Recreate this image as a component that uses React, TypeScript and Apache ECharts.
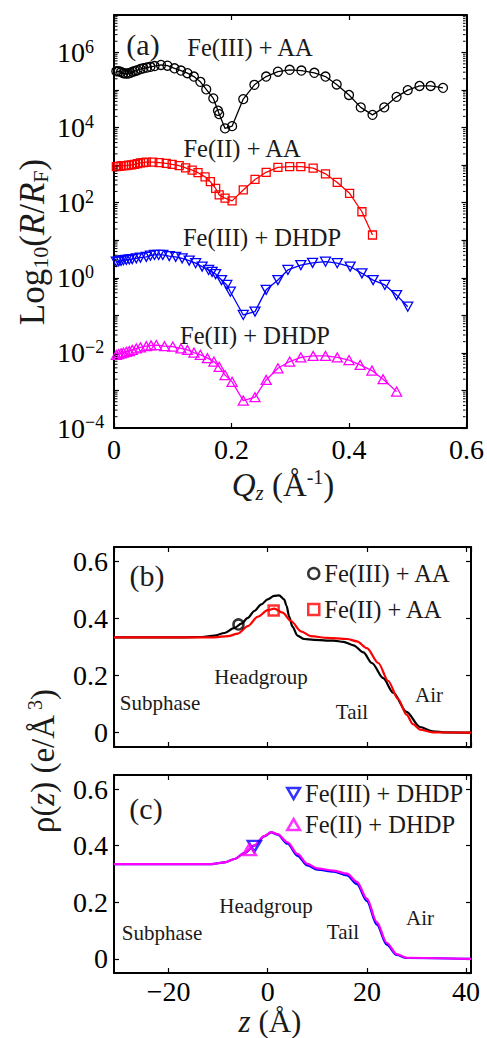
import React, { useEffect, useRef } from "react";
import * as echarts from "echarts";

const FONT = "'Liberation Serif', 'Times New Roman', serif";
const TXT = "#1a1a1a";

// ---------- Panel (a): [Qz (1/Å), log10(R/RF)] ----------
const fe3AA: number[][] = [
  [0.004, 5.5], [0.008, 5.5], [0.012, 5.48], [0.016, 5.45], [0.02, 5.44], [0.024, 5.44], [0.028, 5.46],
  [0.032, 5.49], [0.036, 5.51], [0.04, 5.53], [0.045, 5.56], [0.05, 5.58], [0.056, 5.6], [0.062, 5.62],
  [0.069, 5.64], [0.08, 5.67], [0.091, 5.65], [0.103, 5.58], [0.114, 5.52], [0.125, 5.45], [0.136, 5.36],
  [0.147, 5.22], [0.157, 5.02], [0.169, 4.78], [0.177, 4.45], [0.179, 4.36], [0.189, 3.98], [0.201, 4.04],
  [0.22, 4.76], [0.239, 5.14], [0.259, 5.36], [0.279, 5.49], [0.299, 5.54], [0.319, 5.52], [0.341, 5.46],
  [0.36, 5.36], [0.379, 5.15], [0.4, 4.87], [0.42, 4.54], [0.44, 4.34], [0.46, 4.54], [0.481, 4.82],
  [0.5, 5.0], [0.52, 5.11], [0.539, 5.11], [0.56, 5.06],
];
const fe2AA: number[][] = [
  [0.004, 2.96], [0.008, 2.97], [0.012, 2.98], [0.016, 2.99], [0.02, 2.99], [0.025, 3.0], [0.03, 3.01],
  [0.035, 3.02], [0.04, 3.04], [0.045, 3.06], [0.05, 3.07], [0.055, 3.08], [0.066, 3.08], [0.077, 3.07],
  [0.089, 3.05], [0.099, 3.02], [0.111, 2.99], [0.122, 2.93], [0.133, 2.87], [0.143, 2.8], [0.155, 2.69],
  [0.164, 2.56], [0.173, 2.38], [0.179, 2.21], [0.189, 2.12], [0.201, 2.05], [0.22, 2.34], [0.24, 2.62],
  [0.259, 2.81], [0.279, 2.94], [0.299, 2.96], [0.318, 2.96], [0.339, 2.92], [0.36, 2.77], [0.38, 2.54],
  [0.401, 2.25], [0.422, 1.76], [0.44, 1.14],
];
const fe3DHDP: number[][] = [
  [0.004, 0.43], [0.008, 0.44], [0.012, 0.45], [0.016, 0.47], [0.021, 0.48], [0.026, 0.49], [0.031, 0.5],
  [0.038, 0.52], [0.045, 0.54], [0.055, 0.56], [0.062, 0.59], [0.069, 0.61], [0.076, 0.61], [0.083, 0.61],
  [0.094, 0.58], [0.105, 0.56], [0.116, 0.52], [0.128, 0.46], [0.139, 0.39], [0.15, 0.3], [0.161, 0.21],
  [0.167, 0.16], [0.173, 0.1], [0.183, -0.06], [0.192, -0.19], [0.198, -0.37], [0.22, -0.99], [0.24, -0.9],
  [0.259, -0.32], [0.279, -0.06], [0.296, 0.21], [0.318, 0.34], [0.338, 0.4], [0.36, 0.43], [0.38, 0.39],
  [0.402, 0.3], [0.422, 0.12], [0.441, -0.06], [0.461, -0.19], [0.481, -0.46], [0.5, -0.77],
];
const fe2DHDP: number[][] = [
  [0.004, -2.05], [0.008, -2.03], [0.012, -2.01], [0.016, -1.99], [0.021, -1.97], [0.026, -1.95],
  [0.031, -1.92], [0.038, -1.88], [0.045, -1.85], [0.055, -1.82], [0.063, -1.8], [0.072, -1.79],
  [0.086, -1.82], [0.1, -1.83], [0.114, -1.88], [0.125, -1.92], [0.136, -1.99], [0.147, -2.05],
  [0.159, -2.14], [0.17, -2.23], [0.179, -2.37], [0.189, -2.59], [0.201, -2.77], [0.22, -3.27],
  [0.24, -3.18], [0.259, -2.72], [0.279, -2.41], [0.299, -2.23], [0.318, -2.12], [0.339, -2.08],
  [0.36, -2.08], [0.38, -2.12], [0.4, -2.19], [0.419, -2.32], [0.439, -2.47], [0.458, -2.7], [0.481, -3.03],
];
const logTicksMinorFactors = [2, 3, 4, 5, 6, 7, 8, 9];
const logDecades = [-4, -3, -2, -1, 0, 1, 2, 3, 4, 5, 6];

// ---------- Panel (b): [z (Å), rho (e/Å^3)] ----------
const rhoFe3AA: number[][] = [
  [-31, 0.334], [-16.7, 0.334], [-13.3, 0.335], [-10.7, 0.34], [-8.7, 0.349], [-6.7, 0.367], [-5.3, 0.382],
  [-4, 0.402], [-2.7, 0.426], [-1.3, 0.449], [0, 0.467], [1.3, 0.479], [2.3, 0.481], [3.3, 0.467],
  [3.8, 0.444], [4.33, 0.406], [5, 0.371], [6, 0.34], [7.33, 0.328], [9.3, 0.325], [13.3, 0.322],
  [15.3, 0.318], [17.3, 0.306], [19.3, 0.281], [21, 0.244], [23.3, 0.191], [25.3, 0.14],
  [28, 0.073], [30.7, 0.02], [33.3, 0.005], [36, 0.001], [41, 0],
];
const rhoFe2AA: number[][] = [
  [-31, 0.334], [-10.7, 0.334], [-8, 0.338], [-6, 0.347], [-4, 0.373], [-2, 0.406], [0, 0.429], [1.3, 0.434],
  [3, 0.42], [4.7, 0.391], [6.7, 0.355], [8.7, 0.338], [12, 0.332], [16, 0.328], [18, 0.32], [20, 0.296],
  [22.3, 0.244], [24.3, 0.181], [26.3, 0.118], [28, 0.063], [29.3, 0.03], [30.7, 0.011], [33.3, 0.001], [41, 0],
];
const markFe3AA = [[-5.9, 0.379]];
const markFe2AA = [[1.2, 0.428]];

// ---------- Panel (c) ----------
const rhoFe3DHDP: number[][] = [
  [-31, 0.335], [-11.3, 0.335], [-8.7, 0.341], [-6.7, 0.353], [-4.7, 0.374], [-2.7, 0.4], [-0.7, 0.433],
  [0.7, 0.447], [2, 0.439], [4, 0.407], [6, 0.364], [8, 0.33], [10, 0.315], [13.3, 0.308], [16, 0.295],
  [18, 0.264], [20, 0.204], [22, 0.121], [24, 0.05], [26, 0.014], [28, 0.003], [41, 0],
];
const rhoFe2DHDP: number[][] = [
  [-31, 0.335], [-11.3, 0.335], [-8.7, 0.341], [-6.7, 0.353], [-4.7, 0.374], [-2.7, 0.401], [-0.7, 0.434],
  [0.7, 0.448], [2, 0.441], [4, 0.412], [6, 0.371], [8, 0.336], [10, 0.32], [13.3, 0.312], [16, 0.301],
  [18, 0.272], [20, 0.213], [22, 0.13], [24, 0.057], [26, 0.017], [28, 0.004], [41, 0],
];
const markFe3DHDP = [[-2.7, 0.398]];
const markFe2DHDP = [[-3.7, 0.386]];

const DOWN_TRI = "path://M0,0L10,0L5,8.66Z";
const UP_TRI = "path://M5,0L10,8.66L0,8.66Z";
const CLEAR = "rgba(0,0,0,0)";

function frameAxis(extra: any) {
  return {
    type: "value",
    axisLine: { show: true, onZero: false, lineStyle: { color: "#000", width: 2 } },
    axisTick: { show: true, inside: true, length: 5, lineStyle: { color: "#000", width: 1.2 } },
    splitLine: { show: false },
    axisLabel: { show: false },
    ...extra,
  };
}

const tickFont = { fontFamily: FONT, fontSize: 28, color: "#000" };

function rhoFmt(v: number) {
  if (Math.abs(v) < 1e-9) return "0";
  return String(Math.round(v * 10) / 10);
}
function zFmt(v: number) {
  const r = Math.round(v);
  return r < 0 ? "\u2212" + -r : String(r);
}

function buildOption() {
  const minorTickData: number[][] = [];
  logDecades.forEach((d) => logTicksMinorFactors.forEach((k) => minorTickData.push([0, d + Math.log10(k)])));

  const aX = { min: 0, max: 0.6, interval: 0.2 };
  const aY = { min: -4, max: 7, interval: 1 };
  const zX = { min: -31, max: 41, splitNumber: 4 };
  const rY = { min: -0.05, max: 0.65, splitNumber: 4 };

  // axis index layout: grid g -> bottom/left axis 2g, top/right axis 2g+1
  const xAxis = [
    frameAxis({
      gridIndex: 0, position: "bottom", ...aX,
      axisLabel: { show: true, margin: 7, showMinLabel: true, showMaxLabel: true, ...tickFont,
        formatter: (v: number) => (Math.abs(v) < 1e-9 ? "0" : String(Math.round(v * 10) / 10)) },
    }),
    frameAxis({ gridIndex: 0, position: "top", ...aX }),
    frameAxis({ gridIndex: 1, position: "bottom", ...zX }),
    frameAxis({ gridIndex: 1, position: "top", ...zX }),
    frameAxis({
      gridIndex: 2, position: "bottom", ...zX,
      axisLabel: { show: true, margin: 4, showMinLabel: false, showMaxLabel: false, ...tickFont, formatter: zFmt },
    }),
    frameAxis({ gridIndex: 2, position: "top", ...zX }),
  ];
  const yAxis = [
    frameAxis({
      gridIndex: 0, position: "left", ...aY,
      axisLabel: {
        show: true, align: "left", margin: 57, showMinLabel: true, showMaxLabel: true,
        formatter: (v: number) => {
          const e = Math.round(v);
          if (e % 2 !== 0) return "";
          const s = e < 0 ? "\u2212" + -e : String(e);
          return `{b|10}{s|${s}}`;
        },
        rich: {
          b: { fontFamily: FONT, fontSize: 28, color: "#000", lineHeight: 30 },
          s: { fontFamily: FONT, fontSize: 18, color: "#000", verticalAlign: "top", lineHeight: 18 },
        },
      },
    }),
    frameAxis({ gridIndex: 0, position: "right", ...aY }),
    frameAxis({
      gridIndex: 1, position: "left", ...rY,
      axisLabel: { show: true, margin: 6, showMinLabel: false, showMaxLabel: false, ...tickFont, formatter: rhoFmt },
    }),
    frameAxis({ gridIndex: 1, position: "right", ...rY }),
    frameAxis({
      gridIndex: 2, position: "left", ...rY,
      axisLabel: { show: true, margin: 6, showMinLabel: false, showMaxLabel: false, ...tickFont, formatter: rhoFmt },
    }),
    frameAxis({ gridIndex: 2, position: "right", ...rY }),
  ];

  const reflSeries = (name: string, data: number[][], color: string, symbol: string, size: any) => ({
    name, type: "line", xAxisIndex: 0, yAxisIndex: 0, data,
    symbol, symbolSize: size, showSymbol: true,
    lineStyle: { color, width: 1.3 },
    itemStyle: { color: CLEAR, borderColor: color, borderWidth: 1.3 },
    emphasis: { disabled: true }, z: 3,
  });
  const curve = (name: string, data: number[][], color: string, gi: number) => ({
    name, type: "line", xAxisIndex: 2 * gi, yAxisIndex: 2 * gi, data, showSymbol: false,
    smooth: 0.3, smoothMonotone: "x",
    lineStyle: { color, width: 2.2 }, itemStyle: { color }, emphasis: { disabled: true }, z: 3,
  });
  const marker = (name: string, data: number[][], color: string, symbol: string, size: any, gi: number) => ({
    name, type: "scatter", xAxisIndex: 2 * gi, yAxisIndex: 2 * gi, data, symbol, symbolSize: size,
    itemStyle: { color: CLEAR, borderColor: color, borderWidth: 2.5 }, emphasis: { disabled: true }, z: 4,
  });

  const series: any[] = [
    reflSeries("a Fe(III) + AA", fe3AA, "#000000", "circle", 9),
    reflSeries("a Fe(II) + AA", fe2AA, "#ff0000", "rect", 8),
    reflSeries("a Fe(III) + DHDP", fe3DHDP, "#0000ff", DOWN_TRI, [10, 9]),
    reflSeries("a Fe(II) + DHDP", fe2DHDP, "#ff00ff", UP_TRI, [10, 9]),
    {
      name: "minor ticks", type: "custom", xAxisIndex: 0, yAxisIndex: 0, data: minorTickData, silent: true, z: 5,
      renderItem: (params: any, api: any) => {
        const v = api.value(1);
        const p0 = api.coord([0, v]);
        const p1 = api.coord([0.6, v]);
        const st = { stroke: "#000", lineWidth: 1 };
        return {
          type: "group",
          children: [
            { type: "line", shape: { x1: p0[0] + 1, y1: p0[1], x2: p0[0] + 3.5, y2: p0[1] }, style: st },
            { type: "line", shape: { x1: p1[0] - 3.5, y1: p1[1], x2: p1[0] - 1, y2: p1[1] }, style: st },
          ],
        };
      },
    },
    curve("b black", rhoFe3AA, "#000000", 1),
    curve("b red", rhoFe2AA, "#ff0000", 1),
    marker("Fe(III) + AA", markFe3AA, "#000000", "circle", 10, 1),
    marker("Fe(II) + AA", markFe2AA, "#ff0000", "rect", 10, 1),
    curve("c blue", rhoFe3DHDP, "#0000ff", 2),
    curve("c magenta", rhoFe2DHDP, "#ff00ff", 2),
    marker("Fe(III) + DHDP", markFe3DHDP, "#0000ff", DOWN_TRI, [13, 11], 2),
    marker("Fe(II) + DHDP", markFe2DHDP, "#ff00ff", UP_TRI, [13, 11], 2),
  ];

  const legendText = { fontFamily: FONT, fontSize: 24.5, color: TXT, lineHeight: 25 };
  const legend = [
    {
      orient: "vertical", left: 307, top: 561, padding: 0, itemWidth: 11, itemHeight: 11, itemGap: 11,
      selectedMode: false, textStyle: legendText,
      data: [
        { name: "Fe(III) + AA", icon: "circle", itemStyle: { color: CLEAR, borderColor: "#000", borderWidth: 2.5 } },
        { name: "Fe(II) + AA", icon: "rect", itemStyle: { color: CLEAR, borderColor: "#f00", borderWidth: 2.5 } },
      ],
    },
    {
      orient: "vertical", left: 286, top: 781, padding: 0, itemWidth: 13, itemHeight: 11, itemGap: 6,
      selectedMode: false, textStyle: legendText,
      data: [
        { name: "Fe(III) + DHDP", icon: DOWN_TRI, itemStyle: { color: CLEAR, borderColor: "#00f", borderWidth: 2.5 } },
        { name: "Fe(II) + DHDP", icon: UP_TRI, itemStyle: { color: CLEAR, borderColor: "#f0f", borderWidth: 2.5 } },
      ],
    },
  ];

  const t = (text: string, x: number, y: number, size: number, extra: any = {}) => ({
    type: "text", x, y, silent: true,
    style: { text, fontFamily: FONT, fontSize: size, fill: TXT, align: "center", verticalAlign: "middle", ...extra },
  });
  const n = (s: number, lh = s + 4) => ({ fontFamily: FONT, fontSize: s, fill: TXT, color: TXT, lineHeight: lh });
  const it = (s: number, lh = s + 4) => ({ ...n(s, lh), fontStyle: "italic" });
  const sub = (s: number, italic = false) => ({
    fontFamily: FONT, fontSize: s, fill: TXT, color: TXT, verticalAlign: "bottom", lineHeight: s,
    fontStyle: italic ? "italic" : "normal",
  });
  const sup = (s: number) => ({ fontFamily: FONT, fontSize: s, fill: TXT, color: TXT, verticalAlign: "top", lineHeight: s });

  const TS = 33;
  const graphic = [
    t("(a)", 143, 44, 30),
    t("Fe(III) + AA", 250, 47, 24.5),
    t("Fe(II) + AA", 242, 148, 24.5),
    t("Fe(III) + DHDP", 262, 237, 24.5),
    t("Fe(II) + DHDP", 255, 335, 24.5),
    t("(b)", 147, 575, 30),
    t("Headgroup", 261, 677, 21),
    t("Subphase", 160, 703, 21),
    t("Tail", 352, 712, 21),
    t("Air", 429, 695, 21),
    t("(c)", 146, 808, 30),
    t("Headgroup", 266, 906, 21),
    t("Subphase", 162, 933, 21),
    t("Tail", 343, 932, 21),
    t("Air", 420, 918, 21),
    {
      type: "text", x: 32, y: 242, rotation: Math.PI / 2, silent: true,
      style: {
        text: "{n|Log}{sb|10}{n|(}{i|R}{n|/}{i|R}{sb|F}{n|)}",
        fontFamily: FONT, fontSize: 35, fill: TXT, align: "center", verticalAlign: "middle",
        rich: { n: n(35), i: it(35), sb: sub(22) },
      },
    },
    {
      type: "text", x: 283, y: 485, silent: true,
      style: {
        text: "{i|Q}{isb|z}{n| (Å}{sp|-1}{n|)}",
        fontFamily: FONT, fontSize: TS, fill: TXT, align: "center", verticalAlign: "middle",
        rich: { n: n(TS), i: it(TS), isb: sub(21, true), sp: sup(20) },
      },
    },
    {
      type: "text", x: 43, y: 761, rotation: Math.PI / 2, silent: true,
      style: {
        text: "{n|ρ(}{i|z}{n|) (e/Å}{sp| 3}{n|)}",
        fontFamily: FONT, fontSize: TS, fill: TXT, align: "center", verticalAlign: "middle",
        rich: { n: n(TS), i: it(TS), sp: sup(20) },
      },
    },
    {
      type: "text", x: 270, y: 1021, silent: true,
      style: {
        text: "{i|z}{n| (Å)}",
        fontFamily: FONT, fontSize: 31, fill: TXT, align: "center", verticalAlign: "middle",
        rich: { n: n(31, 31), i: it(31, 31) },
      },
    },
  ];

  return {
    animation: false,
    backgroundColor: "#ffffff",
    grid: [
      { left: 114, top: 15, width: 357, height: 413 },
      { left: 114, top: 547, width: 357, height: 200 },
      { left: 114, top: 775, width: 357, height: 198 },
    ],
    xAxis, yAxis, series, legend, graphic,
  };
}

export default function App() {
  const ref = useRef<HTMLDivElement>(null);
  useEffect(() => {
    document.body.style.margin = "0";
    if (!ref.current) return;
    const chart = echarts.init(ref.current, undefined, { renderer: "svg" });
    chart.setOption(buildOption() as any);
    return () => chart.dispose();
  }, []);
  return <div ref={ref} style={{ width: 487, height: 1038 }} />;
}
